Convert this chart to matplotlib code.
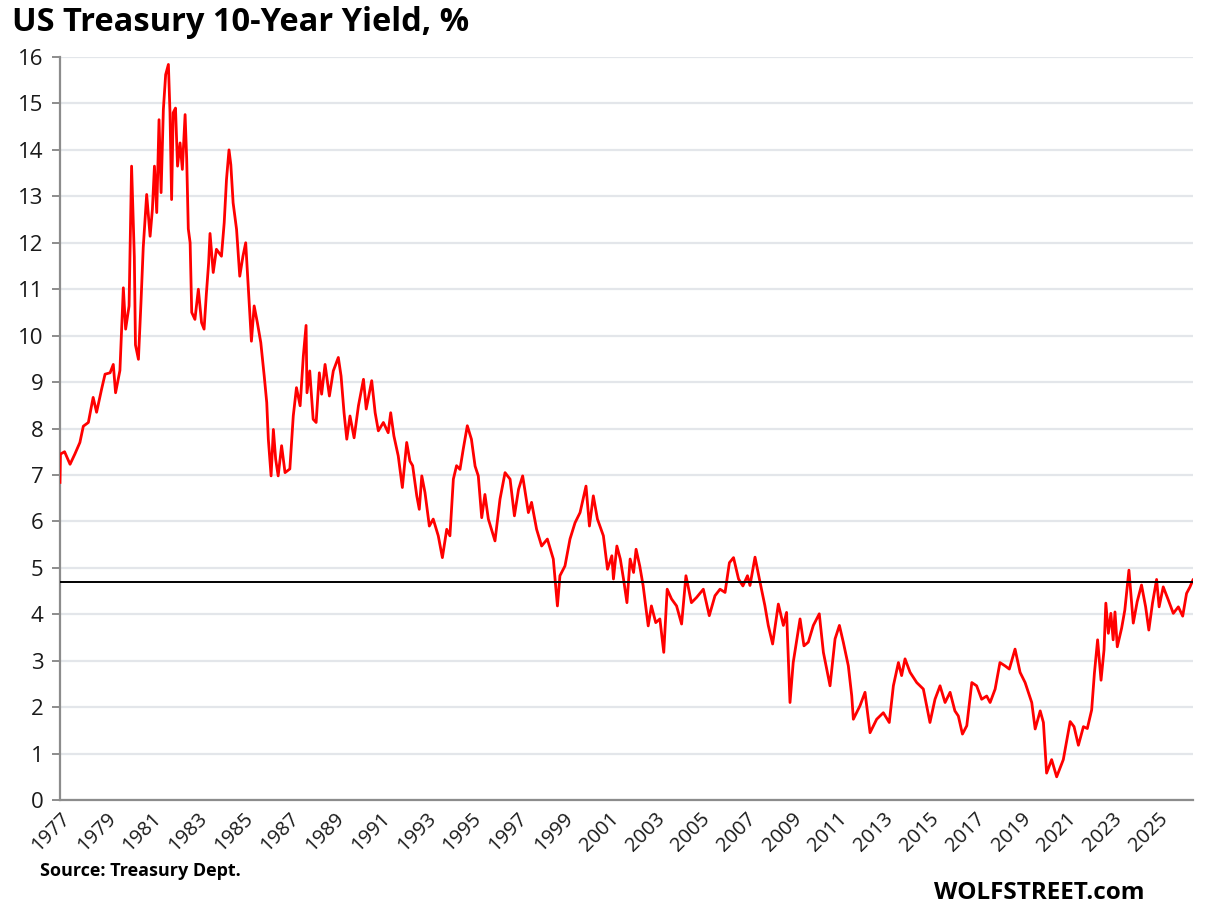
import matplotlib
matplotlib.use("Agg")
import matplotlib.pyplot as plt

# Decimal-year dates and 10-year yields (%)
dates = [
    1977.00, 1977.02, 1977.20, 1977.44, 1977.65, 1977.87, 1978.02, 1978.24, 1978.45, 1978.60,
    1978.82, 1978.97, 1979.19, 1979.33, 1979.43, 1979.62, 1979.77, 1979.87, 1980.02, 1980.13,
    1980.25, 1980.30, 1980.43, 1980.54, 1980.64, 1980.79, 1980.94, 1981.04, 1981.13, 1981.23,
    1981.33, 1981.42, 1981.52, 1981.62, 1981.74, 1981.81, 1981.88, 1981.95, 1982.05, 1982.14,
    1982.25, 1982.35, 1982.47, 1982.54, 1982.61, 1982.69, 1982.76, 1982.90, 1983.05, 1983.19,
    1983.30, 1983.40, 1983.50, 1983.56, 1983.70, 1983.84, 1984.06, 1984.18, 1984.28, 1984.39,
    1984.47, 1984.57, 1984.72, 1984.86, 1985.00, 1985.12, 1985.22, 1985.37, 1985.49, 1985.63,
    1985.78, 1985.93, 1986.04, 1986.11, 1986.23, 1986.33, 1986.43, 1986.54, 1986.69, 1986.84,
    1987.05, 1987.20, 1987.34, 1987.50, 1987.64, 1987.76, 1987.80, 1987.92, 1988.07, 1988.20,
    1988.34, 1988.44, 1988.59, 1988.78, 1988.95, 1989.17, 1989.29, 1989.42, 1989.54, 1989.68,
    1989.86, 1990.05, 1990.27, 1990.39, 1990.63, 1990.78, 1990.92, 1991.14, 1991.35, 1991.46,
    1991.60, 1991.79, 1991.97, 1992.16, 1992.30, 1992.42, 1992.60, 1992.71, 1992.82, 1992.96,
    1993.15, 1993.32, 1993.54, 1993.72, 1993.91, 1994.05, 1994.20, 1994.34, 1994.49, 1994.63,
    1994.81, 1994.99, 1995.15, 1995.29, 1995.44, 1995.58, 1995.73, 1996.02, 1996.24, 1996.46,
    1996.68, 1996.87, 1997.05, 1997.23, 1997.48, 1997.62, 1997.84, 1998.06, 1998.31, 1998.57,
    1998.75, 1998.86, 1999.08, 1999.30, 1999.52, 1999.74, 2000.00, 2000.15, 2000.32, 2000.50,
    2000.76, 2000.94, 2001.13, 2001.20, 2001.35, 2001.50, 2001.64, 2001.79, 2001.93, 2002.08,
    2002.19, 2002.35, 2002.50, 2002.72, 2002.86, 2003.05, 2003.23, 2003.40, 2003.55, 2003.74,
    2003.96, 2004.18, 2004.37, 2004.61, 2004.83, 2005.13, 2005.39, 2005.64, 2005.86, 2006.08,
    2006.27, 2006.45, 2006.67, 2006.86, 2007.06, 2007.17, 2007.39, 2007.61, 2007.82, 2007.97,
    2008.16, 2008.41, 2008.63, 2008.77, 2008.92, 2009.06, 2009.36, 2009.53, 2009.72, 2009.94,
    2010.20, 2010.38, 2010.67, 2010.89, 2011.08, 2011.25, 2011.47, 2011.62, 2011.69, 2011.98,
    2012.20, 2012.42, 2012.71, 2013.00, 2013.26, 2013.44, 2013.66, 2013.80, 2013.95, 2014.17,
    2014.46, 2014.75, 2015.04, 2015.26, 2015.48, 2015.70, 2015.92, 2016.13, 2016.28, 2016.46,
    2016.65, 2016.87, 2017.08, 2017.30, 2017.52, 2017.67, 2017.89, 2018.10, 2018.32, 2018.51,
    2018.76, 2018.98, 2019.20, 2019.49, 2019.64, 2019.86, 2020.00, 2020.14, 2020.36, 2020.58,
    2020.87, 2021.17, 2021.34, 2021.53, 2021.75, 2021.92, 2022.11, 2022.23, 2022.37, 2022.52,
    2022.65, 2022.73, 2022.84, 2022.95, 2023.05, 2023.13, 2023.23, 2023.42, 2023.56, 2023.74,
    2023.93, 2024.10, 2024.29, 2024.47, 2024.61, 2024.77, 2024.95, 2025.06, 2025.24, 2025.46,
    2025.68, 2025.90, 2026.09, 2026.26, 2026.41, 2026.54,
]
yields = [
    6.84, 7.45, 7.50, 7.23, 7.45, 7.70, 8.05, 8.13, 8.67, 8.35,
    8.85, 9.17, 9.20, 9.38, 8.77, 9.25, 11.03, 10.14, 10.64, 13.65,
    11.70, 9.80, 9.49, 10.70, 11.90, 13.04, 12.14, 12.72, 13.65, 12.65,
    14.65, 13.08, 14.87, 15.62, 15.84, 14.80, 12.93, 14.80, 14.90, 13.65,
    14.15, 13.58, 14.76, 13.80, 12.30, 12.00, 10.50, 10.35, 11.00, 10.28,
    10.14, 10.90, 11.57, 12.20, 11.36, 11.86, 11.71, 12.43, 13.36, 14.00,
    13.68, 12.86, 12.29, 11.28, 11.71, 12.00, 11.14, 9.88, 10.64, 10.28,
    9.85, 9.13, 8.56, 7.77, 6.98, 7.98, 7.34, 6.98, 7.63, 7.05,
    7.13, 8.27, 8.88, 8.49, 9.56, 10.22, 8.77, 9.24, 8.20, 8.13,
    9.20, 8.74, 9.38, 8.70, 9.24, 9.53, 9.13, 8.34, 7.77, 8.27,
    7.80, 8.49, 9.06, 8.42, 9.03, 8.34, 7.95, 8.13, 7.91, 8.34,
    7.84, 7.41, 6.73, 7.70, 7.30, 7.20, 6.55, 6.26, 6.98, 6.62,
    5.90, 6.05, 5.69, 5.22, 5.83, 5.69, 6.91, 7.20, 7.12, 7.55,
    8.06, 7.77, 7.19, 6.98, 6.08, 6.58, 6.05, 5.58, 6.48, 7.05,
    6.91, 6.12, 6.69, 6.98, 6.19, 6.41, 5.83, 5.47, 5.62, 5.19,
    4.18, 4.83, 5.04, 5.62, 5.97, 6.19, 6.76, 5.90, 6.55, 6.05,
    5.69, 4.97, 5.26, 4.76, 5.47, 5.19, 4.76, 4.25, 5.19, 4.90,
    5.40, 5.04, 4.61, 3.75, 4.18, 3.82, 3.90, 3.18, 4.54, 4.33,
    4.18, 3.79, 4.83, 4.25, 4.36, 4.54, 3.97, 4.40, 4.54, 4.47,
    5.11, 5.22, 4.76, 4.61, 4.83, 4.62, 5.23, 4.69, 4.19, 3.76,
    3.36, 4.22, 3.76, 4.04, 2.10, 2.96, 3.90, 3.32, 3.40, 3.76,
    4.01, 3.18, 2.46, 3.47, 3.76, 3.40, 2.89, 2.24, 1.74, 2.03,
    2.32, 1.45, 1.74, 1.88, 1.67, 2.46, 2.96, 2.68, 3.04, 2.75,
    2.53, 2.39, 1.67, 2.17, 2.46, 2.10, 2.32, 1.92, 1.81, 1.42,
    1.60, 2.53, 2.46, 2.17, 2.24, 2.10, 2.39, 2.96, 2.89, 2.82,
    3.25, 2.75, 2.53, 2.10, 1.53, 1.92, 1.67, 0.58, 0.87, 0.50,
    0.87, 1.69, 1.58, 1.18, 1.58, 1.54, 1.94, 2.73, 3.45, 2.58,
    3.23, 4.24, 3.59, 4.02, 3.45, 4.05, 3.30, 3.70, 4.09, 4.95,
    3.81, 4.27, 4.63, 4.16, 3.66, 4.24, 4.75, 4.16, 4.59, 4.31,
    4.02, 4.16, 3.96, 4.45, 4.59, 4.74,
]
latest_level = 4.69

tick_years = list(range(1977, 2026, 2))
y_ticks = list(range(0, 17))

FONT = ["Open Sans", "DejaVu Sans"]
plt.rcParams["font.family"] = FONT

fig = plt.figure(figsize=(12.12, 9.18), dpi=100)
ax = fig.add_axes([0.0495, 0.1285, 0.9348, 0.8094])

ax.plot(dates, yields, color="#FF0000", linewidth=2.0, zorder=3)
ax.axhline(latest_level, color="black", linewidth=1.4, zorder=4)

ax.set_xlim(1977.0, 2026.54)
ax.set_ylim(0, 16)
ax.set_yticks(y_ticks)
ax.set_xticks(tick_years)
ax.set_xticklabels([str(y) for y in tick_years], rotation=45, ha="right",
                   rotation_mode="anchor")

ax.grid(axis="y", color="#E3E6EA", linewidth=1.6, zorder=0)
ax.set_axisbelow(True)
for side in ("top", "right"):
    ax.spines[side].set_visible(False)
for side in ("left", "bottom"):
    ax.spines[side].set_color("#8C8C8C")
    ax.spines[side].set_linewidth(1.6)

ax.tick_params(axis="y", length=6, width=1.4, color="#8C8C8C", pad=6,
               labelsize=16, labelcolor="#1a1a1a")
ax.tick_params(axis="x", length=0, pad=6, labelsize=14.5, labelcolor="#1a1a1a")

fig.text(0.010, 0.994, "US Treasury 10-Year Yield, %", ha="left", va="top",
         fontsize=23.5, fontweight="bold", color="black")
fig.text(0.033, 0.051, "Source: Treasury Dept.", ha="left", va="center",
         fontsize=13, fontweight="bold", color="black")
fig.text(0.944, 0.027, "WOLFSTREET.com", ha="right", va="center",
         fontsize=17.5, fontweight="bold", color="black")

fig.savefig("out.png", dpi=100)
plt.close(fig)
